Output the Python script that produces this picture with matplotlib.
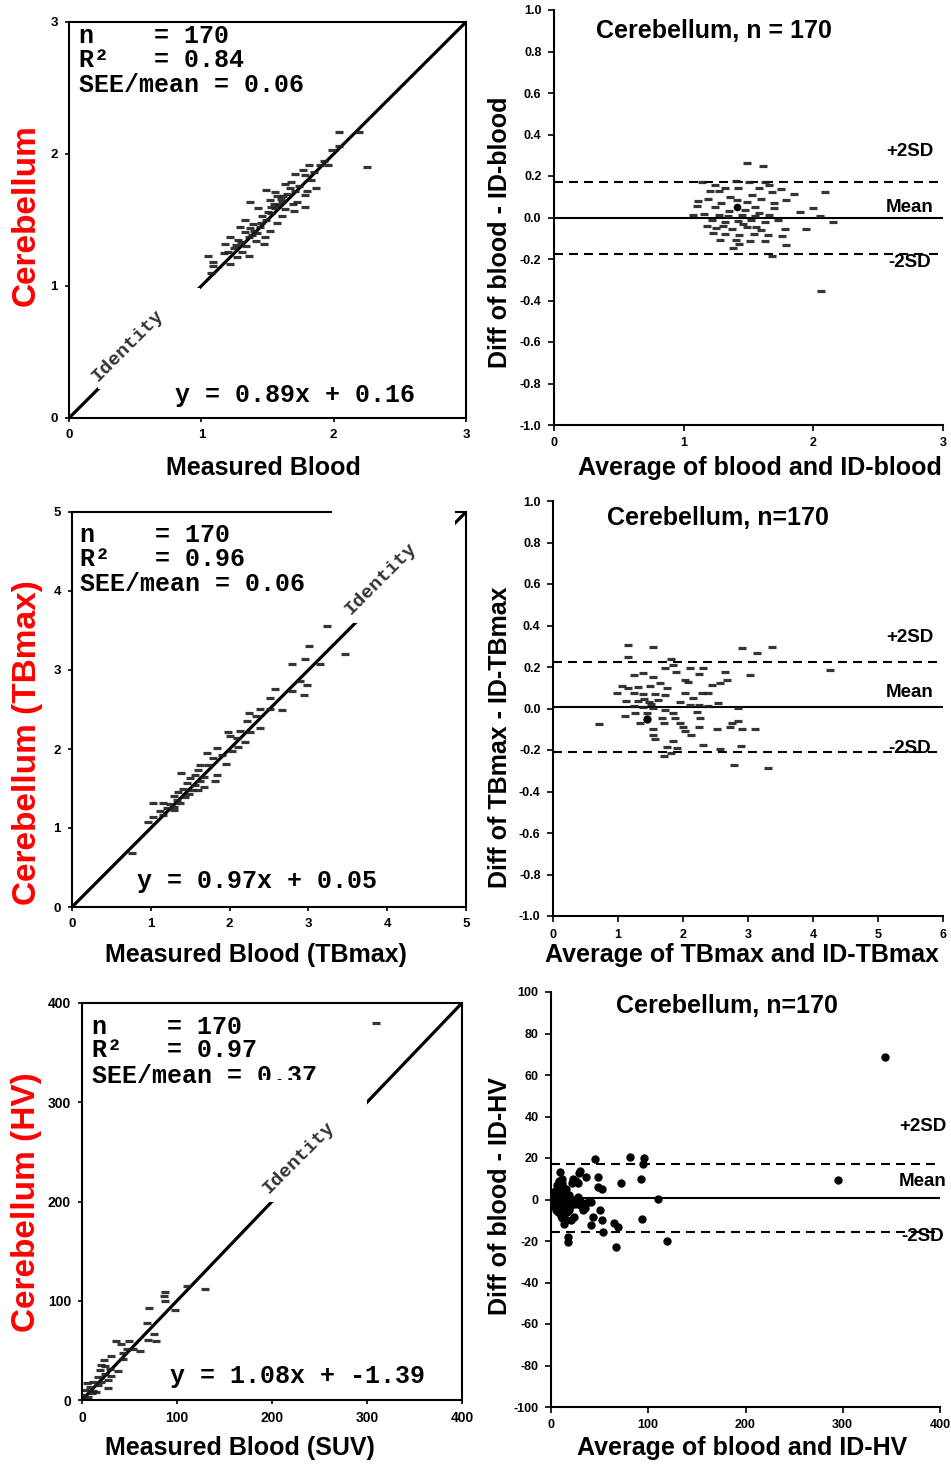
import numpy as np
import matplotlib
matplotlib.use("Agg")
import matplotlib.pyplot as plt
from matplotlib.patches import Rectangle

plt.rcParams['font.family'] = ['Liberation Sans', 'DejaVu Sans']
plt.rcParams['font.weight'] = 'bold'
MONO = ['Liberation Mono', 'DejaVu Sans Mono']

# ---- data ----
# top row: blood vs ID-blood (cerebellum)
p1_points = [(2.04, 2.17), (2.19, 2.17), (2.04, 2.06), (1.99, 2.03), (2.25, 1.90), (1.90, 1.92),
             (1.96, 1.92), (1.81, 1.92), (1.77, 1.88), (1.71, 1.85), (1.78, 1.84), (1.83, 1.80),
             (1.87, 1.74), (1.68, 1.79), (1.63, 1.77), (1.67, 1.74), (1.49, 1.73), (1.56, 1.71),
             (1.71, 1.72), (1.80, 1.72), (1.78, 1.69), (1.57, 1.68), (1.37, 1.64), (1.52, 1.65),
             (1.61, 1.64), (1.72, 1.64), (1.58, 1.61), (1.78, 1.60), (1.43, 1.59), (1.56, 1.59),
             (1.63, 1.58), (1.70, 1.57), (1.53, 1.55), (1.61, 1.53), (1.46, 1.53), (1.33, 1.50),
             (1.49, 1.50), (1.57, 1.48), (1.39, 1.47), (1.29, 1.45), (1.44, 1.45), (1.37, 1.44),
             (1.52, 1.42), (1.33, 1.41), (1.42, 1.40), (1.48, 1.37), (1.22, 1.37), (1.36, 1.37),
             (1.28, 1.35), (1.41, 1.34), (1.47, 1.32), (1.18, 1.32), (1.34, 1.30), (1.25, 1.29),
             (1.20, 1.26), (1.31, 1.26), (1.36, 1.23), (1.17, 1.25), (1.27, 1.22), (1.05, 1.23),
             (1.22, 1.17), (1.09, 1.15), (1.09, 1.18), (1.07, 1.10), (1.55, 1.62), (1.60, 1.66),
             (1.45, 1.48), (1.40, 1.42), (1.50, 1.56), (1.65, 1.70), (1.74, 1.76), (1.38, 1.39),
             (1.30, 1.33), (1.26, 1.31), (1.62, 1.68), (1.53, 1.60), (1.85, 1.86), (1.93, 1.95),
             (1.69, 1.62)]
p2_points = [(1.49, 0.264), (1.61, 0.248), (1.14, 0.17), (1.24, 0.157), (1.40, 0.177), (1.50, 0.173),
             (1.63, 0.173), (1.66, 0.157), (1.75, 0.136), (1.85, 0.113), (2.09, 0.124), (1.32, 0.141),
             (1.42, 0.141), (1.58, 0.141), (1.27, 0.129), (1.68, 0.124), (1.19, 0.088), (1.11, 0.081),
             (1.29, 0.071), (1.41, 0.084), (1.49, 0.076), (1.60, 0.088), (1.79, 0.084), (1.10, 0.055),
             (1.24, 0.052), (1.55, 0.049), (1.70, 0.044), (1.90, 0.028), (2.00, 0.044), (1.07, 0.012),
             (1.16, 0.017), (1.27, 0.012), (1.34, 0.007), (1.45, 0.012), (1.55, 0.007), (1.66, 0.012),
             (2.05, 0.007), (1.22, -0.012), (1.32, -0.020), (1.42, -0.015), (1.52, -0.012), (1.63, -0.020),
             (1.73, -0.012), (2.15, -0.020), (1.18, -0.041), (1.25, -0.052), (1.37, -0.057), (1.49, -0.047),
             (1.60, -0.060), (1.78, -0.057), (1.94, -0.055), (1.23, -0.076), (1.32, -0.080), (1.43, -0.084),
             (1.54, -0.080), (1.65, -0.084), (1.76, -0.089), (1.28, -0.108), (1.40, -0.108), (1.51, -0.112),
             (1.63, -0.112), (1.79, -0.133), (1.43, -0.128), (1.38, -0.145), (1.68, -0.186), (2.06, -0.353),
             (1.35, 0.03), (1.47, 0.035), (1.58, 0.02), (1.30, -0.04), (1.46, -0.03), (1.56, -0.045),
             (1.36, 0.10), (1.53, 0.11), (1.70, 0.07), (1.20, 0.13)]
p2_dots = [(1.41, 0.049)]
p2_mean, p2_upper, p2_lower = 0.0, 0.172, -0.175

# middle row: TBmax
p3_points = [(3.23, 3.56), (3.01, 3.30), (2.96, 3.14), (3.46, 3.20), (2.79, 3.08), (3.15, 3.08),
             (2.89, 2.86), (2.98, 2.81), (2.79, 2.73), (2.94, 2.68), (2.58, 2.76), (2.51, 2.65),
             (2.39, 2.51), (2.51, 2.51), (2.67, 2.49), (2.24, 2.46), (2.34, 2.42), (2.22, 2.35),
             (1.98, 2.21), (2.13, 2.23), (2.26, 2.22), (2.39, 2.26), (2.01, 2.16), (2.09, 2.14),
             (2.20, 2.09), (2.11, 2.03), (2.03, 1.98), (1.84, 2.01), (1.71, 1.95), (1.90, 1.92),
             (1.79, 1.88), (1.96, 1.81), (1.73, 1.80), (1.62, 1.80), (1.84, 1.67), (1.38, 1.70),
             (1.60, 1.73), (1.56, 1.67), (1.67, 1.65), (1.50, 1.63), (1.62, 1.60), (1.81, 1.59),
             (1.46, 1.57), (1.56, 1.54), (1.67, 1.52), (1.41, 1.50), (1.52, 1.48), (1.35, 1.46),
             (1.48, 1.43), (1.60, 1.48), (1.29, 1.41), (1.43, 1.39), (1.33, 1.35), (1.03, 1.32),
             (1.16, 1.32), (1.24, 1.31), (1.37, 1.32), (1.29, 1.26), (1.20, 1.25), (1.12, 1.21),
             (1.29, 1.23), (1.03, 1.14), (1.16, 1.16), (0.97, 1.07), (0.76, 0.68)]
p4_points = [(1.15, 0.307), (1.54, 0.295), (1.16, 0.250), (2.91, 0.290), (3.14, 0.266), (3.37, 0.298),
             (1.82, 0.237), (1.84, 0.210), (1.72, 0.194), (1.89, 0.177), (2.11, 0.194), (2.31, 0.197),
             (2.24, 0.166), (2.65, 0.177), (1.24, 0.161), (1.39, 0.170), (1.54, 0.153), (2.03, 0.137),
             (2.08, 0.129), (2.67, 0.137), (2.57, 0.124), (3.03, 0.161), (2.44, 0.113), (1.06, 0.108),
             (1.16, 0.097), (1.31, 0.105), (1.49, 0.108), (1.65, 0.124), (1.75, 0.097), (0.98, 0.073),
             (1.24, 0.073), (1.39, 0.070), (1.57, 0.070), (1.72, 0.065), (2.03, 0.073), (2.29, 0.073),
             (2.39, 0.076), (1.13, 0.036), (1.31, 0.038), (1.47, 0.033), (1.62, 0.041), (1.95, 0.033),
             (2.16, 0.049), (2.11, 0.017), (2.24, 0.017), (2.39, 0.012), (2.54, 0.025), (1.24, 0.012),
             (1.39, 0.006), (1.54, 0.001), (1.72, -0.007), (2.85, 0.001), (1.26, -0.023), (1.44, -0.020),
             (1.85, -0.020), (2.21, -0.015), (1.11, -0.036), (1.67, -0.047), (1.88, -0.047), (2.26, -0.047),
             (1.34, -0.071), (1.70, -0.068), (1.95, -0.071), (0.70, -0.076), (2.75, -0.068), (2.85, -0.059),
             (2.00, -0.088), (2.24, -0.091), (2.72, -0.091), (2.52, -0.100), (2.90, -0.100), (3.11, -0.100),
             (1.54, -0.100), (2.03, -0.107), (1.54, -0.128), (2.13, -0.128), (1.57, -0.149), (1.85, -0.155),
             (1.75, -0.184), (2.30, -0.176), (1.90, -0.192), (2.57, -0.195), (2.89, -0.181), (1.82, -0.216),
             (1.70, -0.229), (2.79, -0.272), (3.31, -0.288), (4.26, 0.186), (1.40, 0.045), (1.50, 0.02)]
p4_dots = [(1.44, -0.052)]
p4_mean, p4_upper, p4_lower = 0.005, 0.222, -0.212

# bottom row: HV
p5_points = [(87, 109), (86, 105), (87, 100), (129, 112), (110, 115), (98, 91), (71, 93), (68, 78),
             (76, 66), (78, 59), (69, 60), (49, 59), (41, 56), (36, 59), (61, 49), (47, 51), (43, 47),
             (31, 44), (23, 40), (24, 34), (29, 31), (19, 30), (31, 24), (24, 26), (17, 23), (27, 20),
             (12, 18), (5, 17), (8, 13), (17, 15), (27, 12), (3, 10), (12, 9), (10, 7), (1, 5), (6, 3),
             (0, 2), (15, 8), (20, 18), (38, 29), (43, 41), (20, 35), (54, 51), (309, 380)]
p6_points = [(45, 19.4), (81, 20.3), (96, 19.9), (95, 17.1), (9, 13.4), (30, 13.9), (23, 9.7), (28, 8.1),
             (36, 10.7), (48, 10.7), (48, 6.2), (52, 4.9), (72, 8.1), (93, 9.7), (110, 0.1), (11, 7.8),
             (12, 3.8), (7, 1.3), (2, 0.1), (4, -1.8), (9, -3.5), (17, -1.1), (24, -0.2), (31, -1.1),
             (41, -1.1), (30, -2.7), (33, -5.1), (50, -5.1), (12, -6.4), (11, -9.1), (24, -8.3),
             (21, -9.9), (43, -8.3), (52, -9.9), (94, -9.4), (41, -12.3), (65, -11.5), (69, -13.4),
             (53, -15.5), (17, -17.9), (17, -20.3), (67, -22.7), (119, -19.9), (343, 68.8), (295, 9.4),
             (5, 3), (8, -2), (10, 5), (3, -1), (6, 1), (12, -4), (9, 2), (7, 6), (14, -3), (11, 0),
             (4, 4), (13, 3), (16, -6), (18, 2), (20, -3), (22, 0), (25, -2), (28, 1), (35, -4), (38, -1),
             (15, -10), (13, -12), (10, -8), (26, 9), (22, 8), (29, 13),
             (2, 2), (3, -3), (5, -5), (6, 7), (8, 9), (1, -1), (4, 1), (7, -6), (9, 8), (10, -4),
             (12, 6), (14, 2), (15, 5), (16, -2), (6, -4), (4, -2), (8, 4), (11, 10), (13, -7), (19, -5)]
p6_mean, p6_upper, p6_lower = 0.5, 17.0, -15.8

fig = plt.figure(figsize=(9.51, 14.64), dpi=100)
W, H = 951.0, 1464.0


def box(l, t, r, b):
    return [l / W, 1 - b / H, (r - l) / W, (b - t) / H]


def scatter_pts(ax, pts, **kw):
    a = np.array(pts, dtype=float)
    ax.plot(a[:, 0], a[:, 1], ls='none', **kw)


dash_kw = dict(marker='_', ms=5.5, mew=2.3, color='#1f1f1f', alpha=0.9, zorder=2)


def left_panel(ax, lim, ticks, pts, stats, eq, eq_xy, ylab, xlab, ylab_xy, xlab_xy, tick_fs=9.5):
    ax.set_xlim(0, lim)
    ax.set_ylim(0, lim)
    ax.set_xticks(ticks)
    ax.set_yticks(ticks)
    for s in ax.spines.values():
        s.set_linewidth(1.5)
    ax.tick_params(direction='out', length=3, width=1.2, labelsize=tick_fs, pad=5)
    scatter_pts(ax, pts, **dash_kw)
    for txt, y in zip(stats[1], stats[2]):
        ax.text(stats[0], y, txt, transform=ax.transAxes, family=MONO, fontsize=18,
                fontweight='bold', va='baseline', ha='left', zorder=6)
    ax.text(eq_xy[0], eq_xy[1], eq, transform=ax.transAxes, family=MONO, fontsize=18,
            fontweight='bold', va='baseline', ha='left', zorder=6)
    ax.set_ylabel(ylab, color='red', fontsize=24, fontweight='bold')
    ax.yaxis.set_label_coords(*ylab_xy)
    ax.yaxis.label.set_va('center')
    ax.set_xlabel(xlab, fontsize=18, fontweight='bold')
    ax.xaxis.set_label_coords(*xlab_xy)
    ax.xaxis.label.set_va('center')


def right_panel(ax, xlim, xticks, ylim, yticks, yfmt, pts, mean, up, lo, lab_x, lab_y,
                title, title_xy, ylab, xlab, ylab_xy, xlab_xy, kw):
    ax.set_xlim(*xlim)
    ax.set_ylim(*ylim)
    ax.set_xticks(xticks)
    ax.set_yticks(yticks)
    ax.set_yticklabels([yfmt.format(v + 0) for v in yticks])
    ax.spines['top'].set_visible(False)
    ax.spines['right'].set_visible(False)
    ax.spines['left'].set_linewidth(1.5)
    ax.spines['bottom'].set_linewidth(1.5)
    ax.tick_params(direction='out', length=4, width=1.2, labelsize=9, pad=5)
    ax.axhline(mean, color='black', lw=1.5, zorder=1)
    for v in (up, lo):
        ax.axhline(v, color='black', lw=1.5, ls=(0, (4.3, 2.9)), zorder=1)
    scatter_pts(ax, pts, **kw)
    for txt, y in zip(['+2SD', 'Mean', '-2SD'], lab_y):
        ax.text(lab_x, y, txt, fontsize=13.5, fontweight='bold', ha='center', va='center',
                clip_on=False, zorder=6)
    ax.text(title_xy[0], title_xy[1], title, transform=ax.transAxes, fontsize=18,
            fontweight='bold', ha='center', va='center')
    ax.set_ylabel(ylab, fontsize=18, fontweight='bold')
    ax.yaxis.set_label_coords(*ylab_xy)
    ax.yaxis.label.set_va('center')
    ax.set_xlabel(xlab, fontsize=18, fontweight='bold')
    ax.xaxis.set_label_coords(*xlab_xy)
    ax.xaxis.label.set_va('center')


def identity(ax, text_xy, size=14):
    ax.text(text_xy[0], text_xy[1], 'Identity', family=MONO, fontsize=size, fontweight='bold',
            rotation=45, ha='center', va='center', color='#333333', zorder=6,
            rotation_mode='anchor')


# ---- top left ----
ax1 = fig.add_axes(box(69, 22, 466, 418))
ax1.plot([0, 3], [0, 3], color='black', lw=2.3, zorder=2, solid_capstyle='butt')
ax1.add_patch(Rectangle((0.22, 0.22), 0.77, 0.765, facecolor='white', edgecolor='none', zorder=3))
left_panel(ax1, 3, [0, 1, 2, 3], p1_points,
           (0.025, ['n    = 170', 'R\u00b2   = 0.84', 'SEE/mean = 0.06'], [0.947, 0.886, 0.823]),
           'y = 0.89x + 0.16', (0.267, 0.040), 'Cerebellum', 'Measured Blood',
           (-0.108, 0.513), (0.49, -0.126))
identity(ax1, (0.44, 0.545))

# ---- top right ----
ax2 = fig.add_axes(box(554, 10, 943, 425))
right_panel(ax2, (0, 3), [0, 1, 2, 3], (-1, 1), np.round(np.arange(-1.0, 1.01, 0.2), 1), '{:.1f}',
            p2_points, p2_mean, p2_upper, p2_lower, 2.745, [0.316, 0.05, -0.215],
            'Cerebellum, n = 170', (0.411, 0.949), 'Diff of blood - ID-blood',
            'Average of blood and ID-blood', (-0.139, 0.465), (0.53, -0.104), dash_kw)
scatter_pts(ax2, p2_dots, marker='o', ms=4.5, color='black', zorder=3)

# ---- middle left ----
ax3 = fig.add_axes(box(72, 512, 466, 907))
ax3.plot([0, 5], [0, 5], color='black', lw=2.3, zorder=2, solid_capstyle='butt')
ax3.add_patch(Rectangle((3.3, 3.6), 1.56, 1.5, facecolor='white', edgecolor='none', zorder=3,
                        clip_on=False))
left_panel(ax3, 5, [0, 1, 2, 3, 4, 5], p3_points,
           (0.02, ['n    = 170', 'R\u00b2   = 0.96', 'SEE/mean = 0.06'], [0.924, 0.863, 0.800]),
           'y = 0.97x + 0.05', (0.165, 0.048), 'Cerebellum (TBmax)', 'Measured Blood (TBmax)',
           (-0.112, 0.415), (0.467, -0.122))
identity(ax3, (3.92, 4.16))

# ---- middle right ----
ax4 = fig.add_axes(box(553, 501, 943, 916))
right_panel(ax4, (0, 6), [0, 1, 2, 3, 4, 5, 6], (-1, 1), np.round(np.arange(-1.0, 1.01, 0.2), 1),
            '{:.1f}', p4_points, p4_mean, p4_upper, p4_lower, 5.49, [0.34, 0.075, -0.195],
            'Cerebellum, n=170', (0.423, 0.959), 'Diff of TBmax - ID-TBmax',
            'Average of TBmax and ID-TBmax', (-0.136, 0.431), (0.485, -0.094), dash_kw)
scatter_pts(ax4, p4_dots, marker='o', ms=5, color='black', zorder=3)

# ---- bottom left ----
ax5 = fig.add_axes(box(82, 1003, 462, 1400))
ax5.plot([0, 400], [0, 400], color='black', lw=2.3, zorder=2, solid_capstyle='butt')
left_panel(ax5, 400, [0, 100, 200, 300, 400], p5_points,
           (0.026, ['n    = 170', 'R\u00b2   = 0.97', 'SEE/mean = 0.37'], [0.922, 0.864, 0.798]),
           'y = 1.08x + -1.39', (0.232, 0.043), 'Cerebellum (HV)', 'Measured Blood (SUV)',
           (-0.147, 0.499), (0.416, -0.121), tick_fs=10)
ax5.add_patch(Rectangle((184, 200), 116, 122, facecolor='white', edgecolor='none', zorder=7))
identity(ax5, (228, 244))
ax5.texts[-1].set_zorder(8)

# ---- bottom right ----
ax6 = fig.add_axes(box(551, 992, 940, 1407))
right_panel(ax6, (0, 400), [0, 100, 200, 300, 400], (-100, 100), list(range(-100, 101, 20)),
            '{:d}', p6_points, p6_mean, p6_upper, p6_lower, 382, [35.4, 8.9, -17.6],
            'Cerebellum, n=170', (0.452, 0.966), 'Diff of blood - ID-HV',
            'Average of blood and ID-HV', (-0.131, 0.508), (0.491, -0.099),
            dict(marker='o', ms=5, color='black', zorder=2))

fig.savefig('out.png', dpi=100)
